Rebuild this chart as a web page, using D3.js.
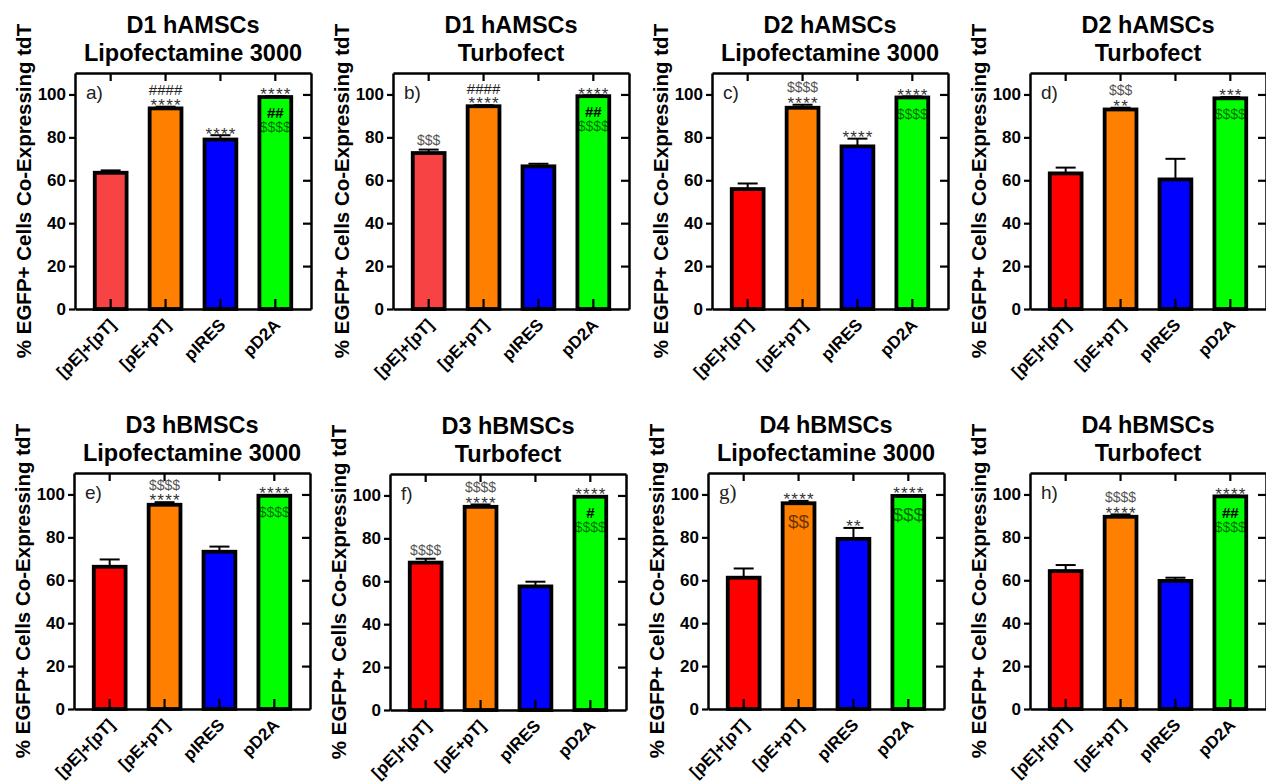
<!DOCTYPE html>
<html>
<head>
<meta charset="utf-8">
<script src="https://cdn.jsdelivr.net/npm/d3@7"></script>
<style>
	body { margin: 0; background: #fff; }
	svg { display: block; }
	text { font-family: "Liberation Sans", Arial, sans-serif; }
</style>
</head>
<body>
<svg id="chart" width="1266" height="784"></svg>
<script>
'use strict'

// groups on the x axis, same for all 8 panels
const groups = ["[pE]+[pT]", "[pE+pT]", "pIRES", "pD2A"]
const yTicks = [0, 20, 40, 60, 80, 100]

const panelLetters = ["a)", "b)", "c)", "d)", "e)", "f)", "g)", "h)"]
const titleLine1 = ["D1 hAMSCs", "D1 hAMSCs", "D2 hAMSCs", "D2 hAMSCs",
	"D3 hBMSCs", "D3 hBMSCs", "D4 hBMSCs", "D4 hBMSCs"]
const titleLine2 = ["Lipofectamine 3000", "Turbofect", "Lipofectamine 3000", "Turbofect",
	"Lipofectamine 3000", "Turbofect", "Lipofectamine 3000", "Turbofect"]

// means and upper error (SEM) per panel, in groups order
const meansA = [63.5, 93.5, 79.0, 98.8], errA = [1.1, 0.8, 2.0, 0.4]
const meansB = [72.7, 94.5, 66.5, 99.2], errB = [1.6, 0.5, 1.2, 0.4]
const meansC = [55.9, 93.8, 75.8, 98.6], errC = [2.6, 1.4, 3.6, 0.5]
const meansD = [63.2, 93.0, 60.4, 98.2], errD = [2.7, 0.8, 9.6, 0.6]
const meansE = [66.3, 95.2, 73.3, 99.4], errE = [3.4, 1.2, 2.4, 0.3]
const meansF = [68.7, 94.7, 57.6, 99.4], errF = [1.8, 1.1, 2.2, 0.3]
const meansG = [61.2, 95.9, 79.3, 99.3], errG = [4.3, 1.1, 5.1, 0.4]
const meansH = [64.3, 89.6, 59.7, 99.1], errH = [2.8, 1.1, 1.5, 0.4]

// significance marks: above the bar (bottom first) and inside the bar (top first)
const aboveA = [[], ["****", "####"], ["****"], ["****"]], insideA = [[], [], [], ["##", "$$$$"]]
const aboveB = [["$$$"], ["****", "####"], [], ["****"]], insideB = [[], [], [], ["##", "$$$$"]]
const aboveC = [[], ["****", "$$$$"], ["****"], ["****"]], insideC = [[], [], [], ["$$$$"]]
const aboveD = [[], ["**", "$$$"], [], ["***"]], insideD = [[], [], [], ["$$$$"]]
const aboveE = [[], ["****", "$$$$"], [], ["****"]], insideE = [[], [], [], ["$$$$"]]
const aboveF = [["$$$$"], ["****", "$$$$"], [], ["****"]], insideF = [[], [], [], ["#", "$$$$"]]
const aboveG = [[], ["****"], ["**"], ["****"]], insideG = [[], ["$$"], [], ["$$$"]]
const aboveH = [[], ["****", "$$$$"], [], ["****"]], insideH = [[], [], [], ["##", "$$$$"]]

const allMeans = [meansA, meansB, meansC, meansD, meansE, meansF, meansG, meansH]
const allErr = [errA, errB, errC, errD, errE, errF, errG, errH]
const allAbove = [aboveA, aboveB, aboveC, aboveD, aboveE, aboveF, aboveG, aboveH]
const allInside = [insideA, insideB, insideC, insideD, insideE, insideF, insideG, insideH]

const svg = d3.select("#chart")

// left edge of plot box, top of plot box
const lefts = [75, 393, 712, 1030, 74, 390, 708, 1030]
const tops = [73, 73, 73, 73, 473, 474, 473, 473]
const plotW = 236
const plotH = 236

function colorsFor(i){
	let red = i < 2 ? "#f74343" : "#ff0000"
	return [red, "#ff8000", "#0000ff", "#00ff00"]
}

// rough glyph metrics (em, above baseline) so marks stack visually
function markStyle(s, inside, big){
	let c = s[0]
	if(c == "*") return {size: 17, fill: "#333", bottom: 0.43, top: 0.72, weight: "normal", ls: 1.2}
	if(c == "#") return {size: 15, fill: inside ? "#000" : "#222", bottom: 0.0, top: 0.71, weight: inside ? "bold" : "normal", ls: 0}
	// "$"
	let size = big ? 19 : 14
	return {size: size, fill: inside ? "#000" : "#555", op: inside ? 0.6 : 1, bottom: -0.08, top: 0.76, weight: "normal", ls: 0}
}

function drawPanel(i){
	let left = lefts[i], top = tops[i]
	let y0 = top + plotH
	let means = allMeans[i], errs = allErr[i]
	let colors = colorsFor(i)

	let x = d3.scaleBand()
		.domain(groups)
		.range([left, left + plotW])
		.paddingInner(0.42)
		.paddingOuter(0.36)
	let y = d3.scaleLinear()
		.domain([0, 110])
		.range([y0, top])

	let g = svg.append("g")
	let data = groups.map(function(d, j){
		return {name: d, mean: means[j], err: errs[j], color: colors[j], above: allAbove[i][j], inside: allInside[i][j]}
	})

	// titles
	let title = g.append("text")
		.attr("text-anchor", "middle")
		.style("font-size", "23.5px").style("font-weight", "bold")
	title.append("tspan").attr("x", left + plotW / 2).attr("y", top - 40).text(titleLine1[i])
	title.append("tspan").attr("x", left + plotW / 2).attr("y", top - 12).text(titleLine2[i])

	// y label
	g.append("text")
		.attr("transform", "translate(" + (left - 44) + "," + (top + plotH / 2) + ") rotate(-90)")
		.attr("text-anchor", "middle")
		.style("font-size", "20.5px").style("font-weight", "bold")
		.text("% EGFP+ Cells Co-Expressing tdT")

	// error bars (upper only)
	let eb = g.append("g").attr("stroke", "#000").attr("stroke-width", 2)
	eb.selectAll(".stem").data(data).enter().append("line")
		.attr("x1", d => x(d.name) + x.bandwidth() / 2)
		.attr("x2", d => x(d.name) + x.bandwidth() / 2)
		.attr("y1", d => y(d.mean))
		.attr("y2", d => y(d.mean + d.err))
	eb.selectAll(".cap").data(data).enter().append("line")
		.attr("x1", d => x(d.name) + x.bandwidth() / 2 - 10)
		.attr("x2", d => x(d.name) + x.bandwidth() / 2 + 10)
		.attr("y1", d => y(d.mean + d.err))
		.attr("y2", d => y(d.mean + d.err))

	// bars
	g.selectAll(".bar").data(data).enter().append("rect")
		.attr("x", d => x(d.name))
		.attr("y", d => y(d.mean))
		.attr("width", x.bandwidth())
		.attr("height", d => y0 - y(d.mean))
		.attr("fill", d => d.color)
		.attr("stroke", "#000")
		.attr("stroke-width", 3.8)

	// left axis
	let la = g.append("g")
		.attr("transform", "translate(" + left + ",0)")
		.call(d3.axisLeft(y).tickValues(yTicks).tickSize(6).tickSizeOuter(0).tickPadding(3))
	la.selectAll("text").style("font-size", "17px").style("font-weight", "bold").attr("fill", "#000")

	// right border, ticks inward
	g.append("g")
		.attr("transform", "translate(" + (left + plotW) + ",0)")
		.call(d3.axisLeft(y).tickValues(yTicks.slice(1)).tickSize(8).tickSizeOuter(0).tickFormat(""))

	// top border, ticks inward at bar centres
	g.append("g")
		.attr("transform", "translate(0," + top + ")")
		.call(d3.axisBottom(x).tickSize(8).tickSizeOuter(0).tickFormat(""))

	// bottom axis, ticks inward
	g.append("g")
		.attr("transform", "translate(0," + y0 + ")")
		.call(d3.axisTop(x).tickSize(10).tickSizeOuter(0).tickFormat(""))

	g.selectAll(".domain").attr("stroke-width", 2.5).attr("stroke", "#000")
	g.selectAll(".tick line").attr("stroke-width", 2.2).attr("stroke", "#000")

	// x labels rotated
	g.selectAll(".xlab").data(data).enter().append("text")
		.attr("transform", d => "translate(" + (x(d.name) + x.bandwidth() / 2 + 6) + "," + (y0 + 17) + ") rotate(-45)")
		.attr("text-anchor", "end")
		.style("font-size", "17px").style("font-weight", "bold")
		.text(d => d.name)

	// panel letter
	g.append("text")
		.attr("x", left + 11).attr("y", y(100) + 5)
		.style("font-size", i == 6 ? "21px" : "19px")
		.style("font-family", i == 6 ? "'Liberation Serif', 'Times New Roman', serif" : null)
		.attr("fill", "#222")
		.text(panelLetters[i])

	// significance marks, one text element per bar
	data.forEach(function(d){
		if(d.above.length == 0 && d.inside.length == 0) return
		let cx = x(d.name) + x.bandwidth() / 2
		let t = g.append("text").attr("text-anchor", "middle")
		let bottomEdge = y(d.mean + d.err) - 3
		d.above.forEach(function(s){
			let st = markStyle(s, false, false)
			let base = bottomEdge + st.bottom * st.size
			t.append("tspan")
				.attr("x", cx + st.ls / 2).attr("y", base)
				.style("font-size", st.size + "px")
				.style("font-weight", st.weight)
				.style("letter-spacing", st.ls + "px")
				.attr("fill", st.fill)
				.text(s)
			bottomEdge = base - st.top * st.size - 3.5
		})
		let topEdge = y(d.mean) + 10.5
		d.inside.forEach(function(s){
			let st = markStyle(s, true, i == 6)
			let base = topEdge + st.top * st.size
			t.append("tspan")
				.attr("x", cx).attr("y", base)
				.style("font-size", st.size + "px")
				.style("font-weight", st.weight)
				.attr("fill", st.fill)
				.attr("fill-opacity", st.op || 1)
				.text(s)
			topEdge = base - st.bottom * st.size + 3.5
		})
	})
}

for(let i = 0; i < 8; i++){
	drawPanel(i)
}
</script>
</body>
</html>
